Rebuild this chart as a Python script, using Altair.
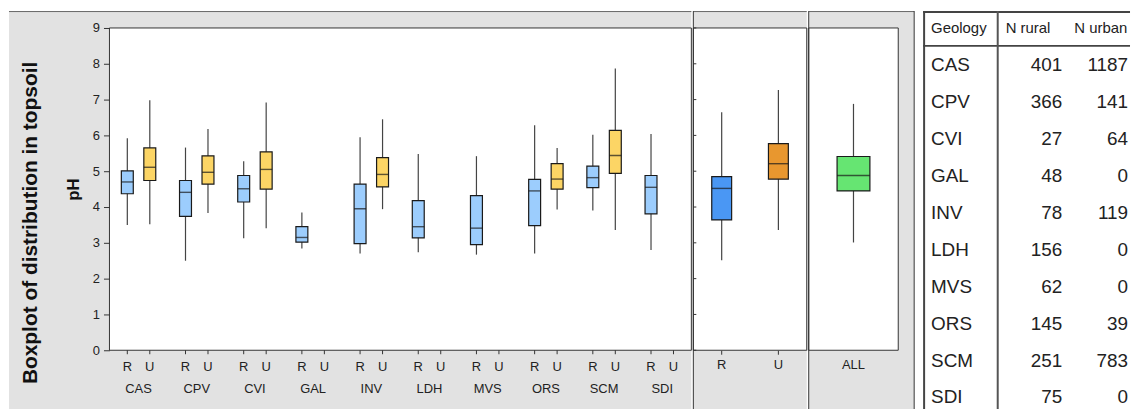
import altair as alt
import pandas as pd

# ---------------- data ----------------
geology = ["CAS", "CPV", "CVI", "GAL", "INV", "LDH", "MVS", "ORS", "SCM", "SDI"]
zones = ["R", "U"]
n_rural = [401, 366, 27, 48, 78, 156, 62, 145, 251, 75]
n_urban = [1187, 141, 64, 0, 119, 0, 0, 39, 783, 0]

rural_min = [3.50, 2.50, 3.13, 2.84, 2.70, 2.74, 2.67, 2.70, 3.90, 2.80]
rural_q1 = [4.37, 3.74, 4.14, 3.02, 2.98, 3.14, 2.95, 3.48, 4.54, 3.81]
rural_med = [4.70, 4.41, 4.51, 3.15, 3.95, 3.45, 3.41, 4.45, 4.82, 4.55]
rural_q3 = [5.01, 4.74, 4.88, 3.45, 4.64, 4.18, 4.32, 4.77, 5.14, 4.88]
rural_max = [5.92, 5.66, 5.28, 3.85, 5.95, 5.48, 5.42, 6.28, 6.02, 6.04]

urban_min = [3.52, 3.83, 3.41, None, 3.94, None, None, 3.93, 3.36, None]
urban_q1 = [4.74, 4.64, 4.50, None, 4.56, None, None, 4.50, 4.94, None]
urban_med = [5.11, 4.97, 5.05, None, 4.91, None, None, 4.78, 5.44, None]
urban_q3 = [5.65, 5.43, 5.54, None, 5.38, None, None, 5.21, 6.14, None]
urban_max = [6.98, 6.18, 6.92, None, 6.45, None, None, 5.65, 7.87, None]

zone_min = [2.51, 3.36]
zone_q1 = [3.64, 4.78]
zone_med = [4.52, 5.21]
zone_q3 = [4.85, 5.77]
zone_max = [6.65, 7.27]

all_group = ["ALL"]
all_min = [3.01]
all_q1 = [4.45]
all_med = [4.88]
all_q3 = [5.41]
all_max = [6.88]

y_ticks = list(range(10))

# ---------------- styles ----------------
FONT = "Liberation Sans, Arial, sans-serif"
GREY = "#e2e2e2"
LINE = "#333333"
TXT = "#222222"

W1, W2, W3, H = 585, 114, 90, 324
TOP, BOT, LEFT = 17, 60, 101

rows = []
for i, g in enumerate(geology):
    rows.append(dict(geo=g, zone="R", lo=rural_min[i], q1=rural_q1[i], med=rural_med[i],
                     q3=rural_q3[i], hi=rural_max[i]))
    if urban_med[i] is not None:
        rows.append(dict(geo=g, zone="U", lo=urban_min[i], q1=urban_q1[i], med=urban_med[i],
                         q3=urban_q3[i], hi=urban_max[i]))
box_df = pd.DataFrame(rows)
lab_df = pd.DataFrame([dict(geo=g, zone=z) for g in geology for z in zones])
zone_df = pd.DataFrame(dict(zone=zones, lo=zone_min, q1=zone_q1, med=zone_med, q3=zone_q3, hi=zone_max))
all_df = pd.DataFrame(dict(grp=all_group, lo=all_min, q1=all_q1, med=all_med, q3=all_q3, hi=all_max))
tick_df = pd.DataFrame(dict(t=y_ticks))
tbl_df = pd.DataFrame(dict(geo=geology, nr=n_rural, nu=n_urban))
one = pd.DataFrame(dict(k=[0]))

yscale = alt.Scale(domain=[0, 9], nice=False, zero=True)
yaxis = alt.Axis(values=y_ticks, tickSize=6, tickColor=LINE, labelPadding=4, domain=False,
                 grid=False, labelFont=FONT, labelFontSize=13, labelColor=TXT,
                 titleFont=FONT, titleFontSize=17, titleFontWeight="bold", titleColor="#111",
                 titlePadding=10, zindex=1)


def Y1(field):
    return alt.Y(field, scale=yscale, axis=yaxis, title="pH")


def Yn(field):
    return alt.Y(field, scale=yscale, axis=None)


def frame(x0, x1, w):
    grey = alt.Chart(one).mark_rect(fill=GREY).encode(
        x=alt.value(x0), x2=alt.value(x1), y=alt.value(-TOP), y2=alt.value(H + BOT))
    topline = alt.Chart(one).mark_rule(color="#666", strokeWidth=1).encode(
        x=alt.value(x0), x2=alt.value(x1), y=alt.value(-TOP + 0.5))
    white = alt.Chart(one).mark_rect(fill="white", stroke=LINE, strokeWidth=1).encode(
        x=alt.value(0), x2=alt.value(w), y=alt.value(0), y2=alt.value(H))
    return [grey, topline, white]


def divider(xv):
    return alt.Chart(one).mark_rule(color=LINE, strokeWidth=1).encode(
        x=alt.value(xv), y=alt.value(-TOP), y2=alt.value(H + BOT))


def boxes(df, X, XO, Yf, size, color_enc):
    enc = dict(x=X)
    if XO is not None:
        enc["xOffset"] = XO
    whisk = alt.Chart(df).mark_rule(color="#444", strokeWidth=1.2).encode(
        y=Yf("lo:Q"), y2="hi:Q", **enc)
    box = alt.Chart(df).mark_bar(size=size, stroke="#1a1a1a", strokeWidth=1.2).encode(
        y=Yf("q1:Q"), y2="q3:Q", color=color_enc, **enc)
    med = alt.Chart(df).mark_tick(size=size, thickness=1.4, color="#1a1a1a").encode(
        y=Yf("med:Q"), **enc)
    return [whisk, box, med]


# ---------------- panel 1: by geology ----------------
X1 = alt.X("geo:N", sort=geology, title=None,
           scale=alt.Scale(domain=geology, paddingInner=0, paddingOuter=0),
           axis=alt.Axis(ticks=False, tickSize=0, domain=False, labelPadding=38,
                         labelBaseline="middle", labelAngle=0, labelFont=FONT,
                         labelFontSize=13, labelColor=TXT, zindex=1))
XO1 = alt.XOffset("zone:N", scale=alt.Scale(domain=zones, paddingInner=0, paddingOuter=0.294))
col1 = alt.Color("zone:N", scale=alt.Scale(domain=zones, range=["#9ccdfd", "#fcd565"]), legend=None)

p1_ticks = alt.Chart(lab_df).mark_rule(color=LINE).encode(
    x=X1, xOffset=XO1, y=alt.value(H), y2=alt.value(H + 4))
p1_labels = alt.Chart(lab_df).mark_text(font=FONT, fontSize=13, color=TXT, baseline="middle").encode(
    x=X1, xOffset=XO1, y=alt.value(H + 17), text="zone:N")
big_title = alt.Chart(one).mark_text(text="Boxplot of distribution in topsoil", angle=270,
                                     font=FONT, fontSize=21, fontWeight="bold", color="#111",
                                     baseline="middle", align="center").encode(
    x=alt.value(-79), y=alt.value(196))

panel1 = alt.layer(
    *frame(-LEFT, W1, W1),
    *boxes(box_df, X1, XO1, Y1, 12, col1),
    p1_ticks, p1_labels, big_title,
).properties(width=W1, height=H)

# ---------------- panel 2: by zone ----------------
X2 = alt.X("zone:N", sort=zones, title=None,
           scale=alt.Scale(domain=zones, paddingInner=0, paddingOuter=0),
           axis=alt.Axis(ticks=True, tickSize=4, tickColor=LINE, domain=False, labelPadding=10,
                         labelBaseline="middle", labelAngle=0, labelFont=FONT,
                         labelFontSize=13, labelColor=TXT, zindex=1))
col2 = alt.Color("zone:N", scale=alt.Scale(domain=zones, range=["#4a97f4", "#e8972f"]), legend=None)
inner_ticks = alt.Chart(tick_df).mark_rule(color=LINE).encode(
    x=alt.value(0), x2=alt.value(3), y=Yn("t:Q"))

panel2 = alt.layer(
    *frame(0, W2, W2),
    divider(0), inner_ticks,
    *boxes(zone_df, X2, None, Yn, 20, col2),
).properties(width=W2, height=H)

# ---------------- panel 3: all ----------------
X3 = alt.X("grp:N", title=None,
           scale=alt.Scale(domain=all_group, paddingInner=0, paddingOuter=0),
           axis=alt.Axis(ticks=False, tickSize=0, domain=False, labelPadding=14,
                         labelBaseline="middle", labelAngle=0, labelFont=FONT,
                         labelFontSize=13, labelColor=TXT, zindex=1))
col3 = alt.Color("grp:N", scale=alt.Scale(domain=all_group, range=["#66e572"]), legend=None)

panel3 = alt.layer(
    *frame(0, W3 + 16, W3),
    divider(0), divider(W3 + 16),
    *boxes(all_df, X3, None, Yn, 33, col3),
).properties(width=W3, height=H)

left = alt.hconcat(panel1, panel2, panel3, spacing=0).resolve_scale(color="independent")

# ---------------- table ----------------
TW = 208
TH = H + BOT
TBL_LINE = "#444444"
Yt = alt.Y("geo:N", sort=geology, axis=None,
           scale=alt.Scale(domain=geology, range=[19, 390], paddingInner=0, paddingOuter=0))

t_lines = [
    alt.Chart(one).mark_rule(color=TBL_LINE, strokeWidth=2).encode(
        x=alt.value(1), y=alt.value(-TOP), y2=alt.value(TH)),
    alt.Chart(one).mark_rule(color=TBL_LINE, strokeWidth=2).encode(
        x=alt.value(0), x2=alt.value(TW), y=alt.value(-TOP + 1)),
    alt.Chart(one).mark_rule(color=TBL_LINE, strokeWidth=2).encode(
        x=alt.value(0), x2=alt.value(TW), y=alt.value(18)),
    alt.Chart(one).mark_rule(color="#555", strokeWidth=2).encode(
        x=alt.value(75), y=alt.value(-TOP), y2=alt.value(TH)),
]
hdr_kw = dict(font=FONT, fontSize=15, color=TXT, baseline="middle", align="left")
t_head = [
    alt.Chart(one).mark_text(text="Geology", **hdr_kw).encode(x=alt.value(8), y=alt.value(0)),
    alt.Chart(one).mark_text(text="N rural", **hdr_kw).encode(x=alt.value(83), y=alt.value(0)),
    alt.Chart(one).mark_text(text="N urban", **hdr_kw).encode(x=alt.value(152), y=alt.value(0)),
]
row_kw = dict(font=FONT, fontSize=19, color=TXT, baseline="middle")
t_rows = [
    alt.Chart(tbl_df).mark_text(align="left", **row_kw).encode(x=alt.value(8), y=Yt, text="geo:N"),
    alt.Chart(tbl_df).mark_text(align="right", **row_kw).encode(x=alt.value(140), y=Yt, text="nr:Q"),
    alt.Chart(tbl_df).mark_text(align="right", **row_kw).encode(x=alt.value(206), y=Yt, text="nu:Q"),
]
table = alt.layer(*t_lines, *t_head, *t_rows).properties(
    width=TW, height=TH, view=alt.ViewBackground(stroke="transparent", fill="white"))

chart = alt.hconcat(left, table, spacing=6, padding=0).configure_view(
    stroke="transparent").configure(font=FONT)

chart.save("out.html", embed_options={"renderer": "svg", "actions": False})
